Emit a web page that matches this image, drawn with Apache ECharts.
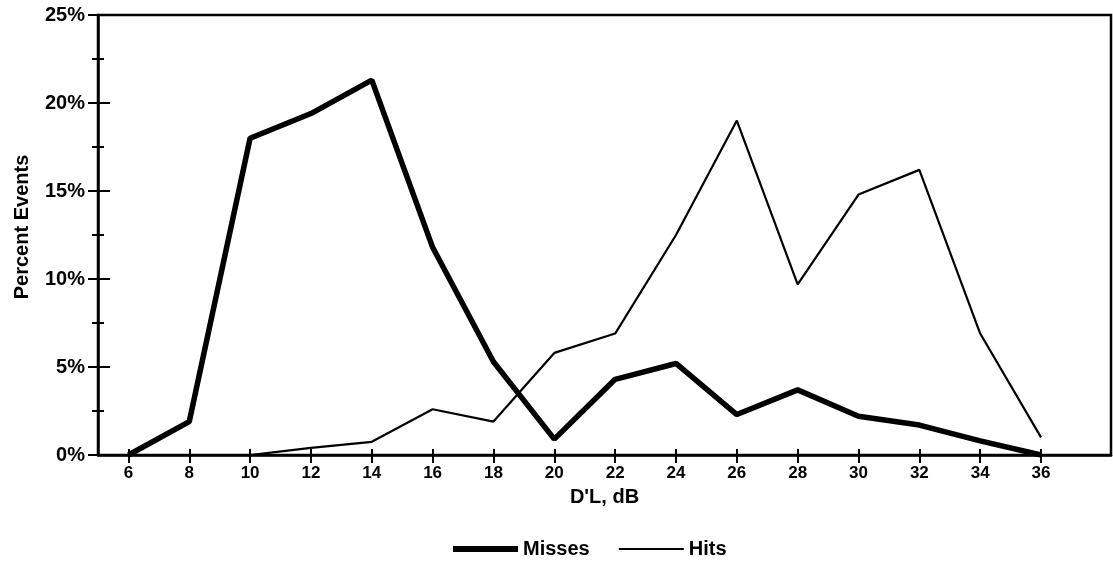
<!DOCTYPE html>
<html>
<head>
<meta charset="utf-8">
<script src="https://cdn.jsdelivr.net/npm/echarts@6/dist/echarts.min.js"></script>
<style>
  html, body { margin: 0; padding: 0; background: #fff; }
  #chart { width: 1113px; height: 583px; }
</style>
</head>
<body>
<div id="chart"></div>
<script>
// D'L levels (dB) along the horizontal axis
const dbLevels = [6, 8, 10, 12, 14, 16, 18, 20, 22, 24, 26, 28, 30, 32, 34, 36];
// Percent of events per level
const misses = [0, 1.9, 18.0, 19.4, 21.3, 11.8, 5.3, 0.9, 4.3, 5.2, 2.3, 3.7, 2.2, 1.7, 0.8, 0];
const hits = [null, null, 0, 0.4, 0.75, 2.6, 1.9, 5.8, 6.9, 12.5, 19.0, 9.7, 14.8, 16.2, 6.9, 1.0];
// Labelled ticks on the dB axis
const xTickValues = [6, 8, 10, 12, 14, 16, 18, 20, 22, 24, 26, 28, 30, 32, 34, 36];

const font = 'Liberation Sans, Arial, sans-serif';
const pairs = (vals) => dbLevels.map((d, i) => [d, vals[i]]).filter(p => p[1] !== null);

const xBase = {
  type: 'value', min: 5, max: 38.3, position: 'bottom',
  splitLine: { show: false }
};
const yBase = {
  type: 'value', min: 0, max: 25, interval: 5, position: 'left',
  splitLine: { show: false }
};

const chart = echarts.init(document.getElementById('chart'), null, { renderer: 'canvas' });
chart.setOption({
  animation: false,
  backgroundColor: '#fff',
  grid: {
    left: 98, right: 2, top: 15, bottom: 128,
    show: true, borderColor: '#000', borderWidth: 2.5, backgroundColor: 'transparent'
  },
  legend: {
    left: 445, top: 534,
    itemWidth: 65, itemHeight: 14, itemGap: 28,
    itemStyle: { opacity: 0 },
    textStyle: { fontFamily: font, fontSize: 20, fontWeight: 'bold', color: '#000' },
    data: [
      { name: 'Misses', lineStyle: { width: 6, color: '#000' } },
      { name: 'Hits', lineStyle: { width: 2.2, color: '#000' } }
    ]
  },
  xAxis: [
    Object.assign({}, xBase, {
      name: "D'L, dB", nameLocation: 'middle', nameGap: 32,
      nameTextStyle: { fontFamily: font, fontSize: 20, fontWeight: 'bold', color: '#000' },
      axisLine: { show: true, lineStyle: { color: '#000', width: 2.5 } },
      axisTick: { show: true, length: 8, customValues: xTickValues, lineStyle: { color: '#000', width: 2 } },
      axisLabel: { show: true, customValues: xTickValues, margin: 10, fontFamily: font, fontSize: 17, fontWeight: 'bold', color: '#000' }
    }),
    Object.assign({}, xBase, {
      axisLine: { show: false },
      axisTick: { show: true, inside: true, length: 6, customValues: xTickValues, lineStyle: { color: '#000', width: 2 } },
      axisLabel: { show: false }
    })
  ],
  yAxis: [
    Object.assign({}, yBase, {
      name: 'Percent Events', nameLocation: 'middle', nameGap: 66,
      nameTextStyle: { fontFamily: font, fontSize: 20, fontWeight: 'bold', color: '#000', padding: [0, 0, 0, 16] },
      axisLine: { show: true, lineStyle: { color: '#000', width: 2.5 } },
      axisTick: { show: true, length: 10, lineStyle: { color: '#000', width: 2 } },
      minorTick: { show: true, splitNumber: 2, length: 6, lineStyle: { color: '#000', width: 2 } },
      axisLabel: { margin: 13, formatter: '{value}%', fontFamily: font, fontSize: 20, fontWeight: 'bold', color: '#000' }
    }),
    Object.assign({}, yBase, {
      axisLine: { show: false },
      axisTick: { show: true, inside: true, length: 12, lineStyle: { color: '#000', width: 2 } },
      minorTick: { show: true, splitNumber: 2, length: 6, lineStyle: { color: '#000', width: 2 } },
      axisLabel: { show: false }
    })
  ],
  series: [
    {
      name: 'Misses', type: 'line', xAxisIndex: 0, yAxisIndex: 0,
      data: pairs(misses), showSymbol: false, symbol: 'none',
      lineStyle: { color: '#000', width: 5.5 }, itemStyle: { color: '#000' }
    },
    {
      name: 'Hits', type: 'line', xAxisIndex: 0, yAxisIndex: 0,
      data: pairs(hits), showSymbol: false, symbol: 'none',
      lineStyle: { color: '#000', width: 2.2 }, itemStyle: { color: '#000' }
    }
  ]
});
</script>
</body>
</html>
